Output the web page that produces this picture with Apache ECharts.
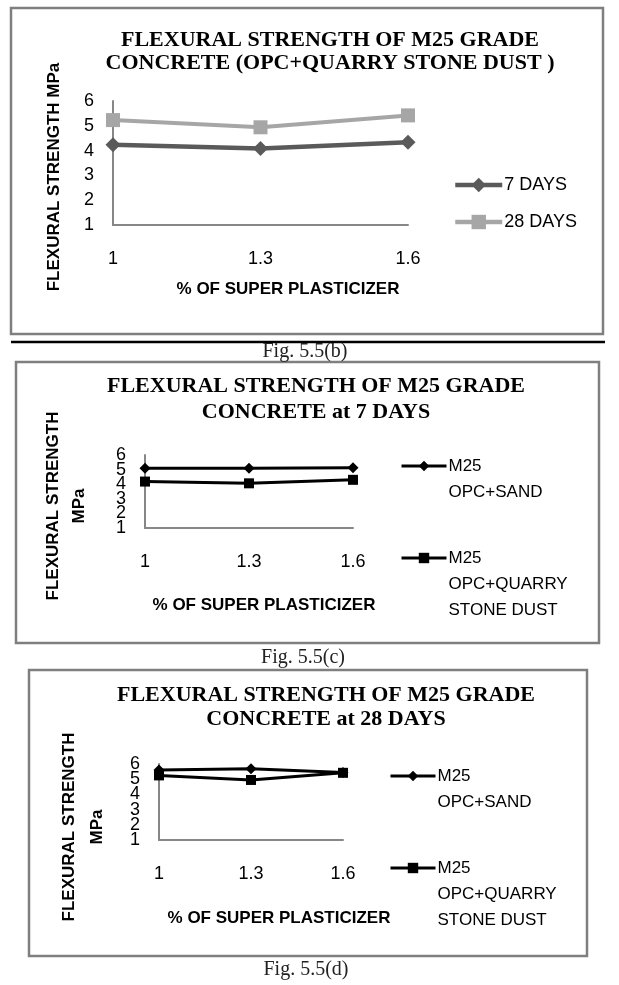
<!DOCTYPE html>
<html>
<head>
<meta charset="utf-8">
<script src="https://cdn.jsdelivr.net/npm/echarts@6/dist/echarts.min.js"></script>
<style>
html,body{margin:0;padding:0;background:#fff;}
#main{width:619px;height:985px;}
</style>
</head>
<body>
<div id="main"></div>
<script>
// ---- data ----
const categories = ['1', '1.3', '1.6'];
const b7Days = [4.24, 4.08, 4.34];
const b28Days = [5.23, 4.94, 5.42];
const cSand = [5.1, 5.1, 5.12];
const cQuarry = [4.18, 4.06, 4.3];
const dSand = [5.6, 5.68, 5.44];
const dQuarry = [5.25, 4.95, 5.42];
const yMin = 1, yMax = 6, yStep = 1;

const nameB7 = '7 DAYS';
const nameB28 = '28 DAYS';
const nameSand = 'M25\nOPC+SAND';
const nameQuarry = 'M25\nOPC+QUARRY\nSTONE DUST';

const SANS = "'Liberation Sans', Arial, sans-serif";
const SERIF = "'Liberation Serif', 'Times New Roman', serif";
const AXIS_GREY = '#878787';

const chart = echarts.init(document.getElementById('main'), null, {renderer: 'canvas'});

function xAxisCfg(gi) {
  return {
    gridIndex: gi, type: 'category', data: categories, boundaryGap: false,
    axisLine: {show: true, lineStyle: {color: AXIS_GREY, width: 2}},
    axisTick: {show: false},
    axisLabel: {color: '#000', fontSize: 18, fontFamily: SANS, margin: 25}
  };
}
// parity: null = all labels, 1 = odd ticks only, 0 = even ticks only
function yAxisCfg(gi, parity, showLine) {
  const lab = {color: '#000', fontSize: 18, fontFamily: SANS, margin: 19, hideOverlap: false,
               showMinLabel: true, showMaxLabel: true};
  if (parity !== null) {
    lab.formatter = v => (Math.round(v) % 2 === parity ? String(v) : '');
    lab.showMinLabel = (yMin % 2 === parity);
    lab.showMaxLabel = (yMax % 2 === parity);
  }
  return {
    gridIndex: gi, type: 'value', min: yMin, max: yMax, interval: yStep, position: 'left', offset: 0,
    axisLine: {show: showLine, lineStyle: {color: AXIS_GREY, width: 2}},
    axisTick: {show: false},
    splitLine: {show: false},
    axisLabel: lab
  };
}

const gText = (x, y, text, font, opts) => Object.assign({
  type: 'text', x: x, y: y, silent: true,
  style: Object.assign({text: text, font: font, fill: '#000', align: 'center', verticalAlign: 'middle'}, opts || {})
});

const smallLegendText = {fontSize: 17, fontFamily: SANS, color: '#000', lineHeight: 26, padding: [0, 0, 0, -3]};

const option = {
  animation: false,
  backgroundColor: '#fff',
  grid: [
    {left: 113, top: 101, width: 295, height: 124},
    {left: 145, top: 455, width: 208, height: 73},
    {left: 159, top: 764, width: 184, height: 76}
  ],
  xAxis: [xAxisCfg(0), xAxisCfg(1), xAxisCfg(2)],
  yAxis: [
    yAxisCfg(0, null, true),
    yAxisCfg(1, 1, true),
    yAxisCfg(2, 1, true),
    yAxisCfg(1, 0, false),
    yAxisCfg(2, 0, false)
  ],
  legend: [
    {left: 453, top: 175, orient: 'vertical', padding: 0, itemGap: 17, itemWidth: 47, itemHeight: 18,
     data: [nameB7, nameB28], selectedMode: false, lineStyle: {width: 4.5},
     textStyle: {fontSize: 18, fontFamily: SANS, color: '#000', lineHeight: 20, padding: [0, 0, 0, -3]}},
    {left: 400, top: 466 - 39, padding: 0, itemWidth: 45, itemHeight: 13, selectedMode: false,
     data: [nameSand], formatter: n => '\n' + n, lineStyle: {width: 3},
     textStyle: smallLegendText},
    {left: 400, top: 558 - 65, padding: 0, itemWidth: 45, itemHeight: 13, selectedMode: false,
     data: [nameQuarry], formatter: n => '\n\n' + n, lineStyle: {width: 3},
     textStyle: smallLegendText},
    {left: 389, top: 776 - 39, padding: 0, itemWidth: 45, itemHeight: 13, selectedMode: false,
     data: [nameSand], formatter: n => '\n' + n, lineStyle: {width: 3},
     textStyle: smallLegendText},
    {left: 389, top: 868 - 65, padding: 0, itemWidth: 45, itemHeight: 13, selectedMode: false,
     data: [nameQuarry], formatter: n => '\n\n' + n, lineStyle: {width: 3},
     textStyle: smallLegendText}
  ],
  series: [
    {name: nameB7, type: 'line', xAxisIndex: 0, yAxisIndex: 0, data: b7Days,
     symbol: 'diamond', symbolSize: 15, color: '#5a5a5a',
     lineStyle: {width: 4.5, color: '#5a5a5a'}, itemStyle: {color: '#5a5a5a'}},
    {name: nameB28, type: 'line', xAxisIndex: 0, yAxisIndex: 0, data: b28Days,
     symbol: 'rect', symbolSize: 14, color: '#a6a6a6',
     lineStyle: {width: 4, color: '#a6a6a6'}, itemStyle: {color: '#a6a6a6'}},
    {name: nameSand, type: 'line', xAxisIndex: 1, yAxisIndex: 1, data: cSand,
     symbol: 'diamond', symbolSize: 11, color: '#000',
     lineStyle: {width: 3, color: '#000'}, itemStyle: {color: '#000'}},
    {name: nameQuarry, type: 'line', xAxisIndex: 1, yAxisIndex: 1, data: cQuarry,
     symbol: 'rect', symbolSize: 10, color: '#000',
     lineStyle: {width: 3, color: '#000'}, itemStyle: {color: '#000'}},
    {name: nameSand, type: 'line', xAxisIndex: 2, yAxisIndex: 2, data: dSand,
     symbol: 'diamond', symbolSize: 11, color: '#000',
     lineStyle: {width: 3, color: '#000'}, itemStyle: {color: '#000'}},
    {name: nameQuarry, type: 'line', xAxisIndex: 2, yAxisIndex: 2, data: dQuarry,
     symbol: 'rect', symbolSize: 10, color: '#000',
     lineStyle: {width: 3, color: '#000'}, itemStyle: {color: '#000'}}
  ],
  graphic: [
    // frames
    {type: 'rect', silent: true, shape: {x: 11, y: 8, width: 592, height: 326},
     style: {fill: 'none', stroke: '#7f7f7f', lineWidth: 2.5}},
    {type: 'rect', silent: true, shape: {x: 16, y: 362, width: 583, height: 281},
     style: {fill: 'none', stroke: '#7f7f7f', lineWidth: 2.5}},
    {type: 'rect', silent: true, shape: {x: 29, y: 670, width: 558, height: 286},
     style: {fill: 'none', stroke: '#7f7f7f', lineWidth: 2.5}},
    // separator rule
    {type: 'line', silent: true, shape: {x1: 11, y1: 342, x2: 605, y2: 342},
     style: {stroke: '#000', lineWidth: 2.5}},
    // titles
    gText(330, 51.5, 'FLEXURAL STRENGTH OF M25 GRADE\nCONCRETE (OPC+QUARRY STONE DUST )', "bold 22px " + SERIF, {lineHeight: 23}),
    gText(316, 399, 'FLEXURAL STRENGTH OF M25 GRADE\nCONCRETE at 7 DAYS', "bold 22px " + SERIF, {lineHeight: 26}),
    gText(326, 707.5, 'FLEXURAL STRENGTH OF M25 GRADE\nCONCRETE at 28 DAYS', "bold 22px " + SERIF, {lineHeight: 24}),
    // y-axis titles
    Object.assign(gText(54, 177, 'FLEXURAL STRENGTH MPa', "bold 17px " + SANS), {rotation: Math.PI / 2}),
    Object.assign(gText(66, 506, 'FLEXURAL STRENGTH\nMPa', "bold 17px " + SANS, {lineHeight: 26}), {rotation: Math.PI / 2}),
    Object.assign(gText(83, 827, 'FLEXURAL STRENGTH\nMPa', "bold 17px " + SANS, {lineHeight: 28}), {rotation: Math.PI / 2}),
    // x-axis titles
    gText(288, 289, '% OF SUPER PLASTICIZER', "bold 17px " + SANS),
    gText(264, 605, '% OF SUPER PLASTICIZER', "bold 17px " + SANS),
    gText(279, 918, '% OF SUPER PLASTICIZER', "bold 17px " + SANS),
    // captions
    gText(305, 352, 'Fig. 5.5(b)', "20px " + SERIF, {fill: '#222'}),
    gText(303, 658, 'Fig. 5.5(c)', "20px " + SERIF, {fill: '#222'}),
    gText(306, 970, 'Fig. 5.5(d)', "20px " + SERIF, {fill: '#222'})
  ]
};
chart.setOption(option);
</script>
</body>
</html>
